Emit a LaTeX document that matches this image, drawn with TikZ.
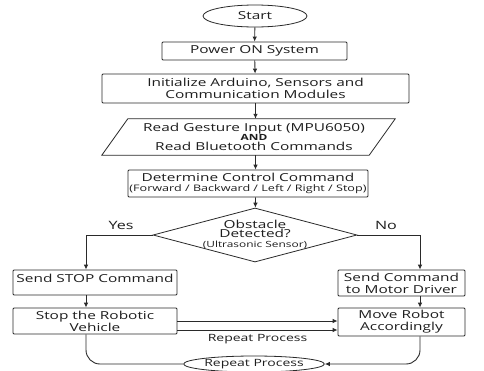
\documentclass[tikz,border=0pt]{standalone}
\usepackage{fontspec}
\setmainfont[FakeStretch=1.4]{Open Sans}
\usetikzlibrary{arrows.meta,positioning,calc,shapes.geometric}
\definecolor{Ink}{HTML}{1E1E1E}
\definecolor{InkLine}{HTML}{2A2A2A}

\begin{document}
\begin{tikzpicture}[>=Latex,x=1pt,y=-1pt]
    \tikzset{
      term/.style={ellipse,draw=InkLine,line width=0.8pt,inner sep=0pt,text=Ink,
                   font=\fontsize{11}{12}\selectfont},
      stepbox/.style={draw=InkLine,line width=0.8pt,rounded corners=1pt,align=center,
                   inner sep=0pt,text=Ink,font=\fontsize{11}{12}\selectfont},
      decide/.style={diamond,draw=InkLine,line width=0.8pt,inner sep=0pt},
      edge/.style={line width=0.8pt,draw=InkLine},
      arr/.style={-{Latex[length=5pt,width=4.5pt]},line width=0.9pt,draw=InkLine}
    }
    \useasboundingbox (0,0) rectangle (484,370);
    \fill[white] (0,0) rectangle (484,370);
    \node[term,minimum width=104pt,minimum height=22pt] (start) at (255,16) {Start};
    \node[stepbox,minimum width=185pt,minimum height=18pt] (power) at (254.5,51) {Power ON System};
    \node[stepbox,minimum width=307pt,minimum height=29pt] (init) at (255.5,88.5)
          {Initialize Arduino, Sensors and\\Communication Modules};
    % input/output parallelogram
    \node[minimum width=267pt,minimum height=36pt,inner sep=0pt] (read) at (248.5,137) {};
    \draw[edge] ([xshift=-13pt]read.south west) -- ([xshift=13pt]read.north west)
          -- ([xshift=13pt]read.north east) -- ([xshift=-13pt]read.south east) -- cycle;
    \node[align=center,text=Ink,font=\fontsize{11}{9.5}\selectfont] (readtxt) at (254,136.5)
          {Read Gesture Input (MPU6050)\\{\fontsize{8.5}{9}\selectfont\bfseries AND}\\Read Bluetooth Commands};
    \node[stepbox,minimum width=240pt,minimum height=27pt] (cmd) at (248,183.5)
          {Determine Control Command\\[-2pt]{\fontsize{9}{10}\selectfont (Forward / Backward / Left / Right / Stop)}};
    \node[decide,minimum width=204pt,minimum height=54pt] (obst) at (255,235) {};
    \node[align=center,text=Ink,font=\fontsize{11}{9.5}\selectfont] (obsttxt) at (255,234)
          {Obstacle\\Detected?\\{\fontsize{8.5}{9}\selectfont (Ultrasonic Sensor)}};
    \node[text=Ink,font=\fontsize{11.5}{12}\selectfont] (yes) at (121,225) {Yes};
    \node[text=Ink,font=\fontsize{11.5}{12}\selectfont] (no) at (386,225) {No};

    \node[stepbox,minimum width=164pt,minimum height=25pt,text depth=9pt] (stopcmd) at (95,282.5)
          {Send STOP Command};
    \node[stepbox,minimum width=127pt,minimum height=26pt] (sendcmd) at (401.5,283)
          {Send Command\\to Motor Driver};
    \node[stepbox,minimum width=164pt,minimum height=26pt] (stopveh) at (95,321)
          {Stop the Robotic\\Vehicle};
    \node[stepbox,minimum width=127pt,minimum height=28pt] (move) at (401.5,322)
          {Move Robot\\Accordingly};
    \node[term,minimum width=114pt,minimum height=16pt,font=\fontsize{10}{11}\selectfont] (again) at (254,364)
          {Repeat Process};

    \draw[arr] (start) -- (power);
    \draw[arr] (power) -- (init);
    \draw[arr] (init) -- (init |- read.north);
    \draw[arr] (init |- read.south) -- (init |- cmd.north);
    \draw[arr] (init |- cmd.south) -- (obst);
    \draw[arr] (obst.west) -| ([xshift=-9pt]stopcmd.north);
    \draw[arr] (obst.east) -| ([xshift=18.5pt]sendcmd.north);
    \draw[arr] ([xshift=-9pt]stopcmd.south) -- ([xshift=-9pt]stopveh.north);
    \draw[arr] ([xshift=18.5pt]sendcmd.south) -- ([xshift=18.5pt]move.north);
    \draw[arr] (stopveh.east) -- (stopveh.east -| move.west);
    \coordinate (rp) at ([yshift=-9pt]stopveh.east);
    \draw[arr] (rp) -- node[below=1pt,text=Ink,font=\fontsize{10}{11}\selectfont] {Repeat Process} (rp -| move.west);
    \draw[edge,line width=0.9pt,rounded corners=14pt] ([xshift=-9pt]stopveh.south) |- (again.west);
    \draw[arr,rounded corners=14pt] ([xshift=18.5pt]move.south) |- (again.east);
\end{tikzpicture}
\end{document}
